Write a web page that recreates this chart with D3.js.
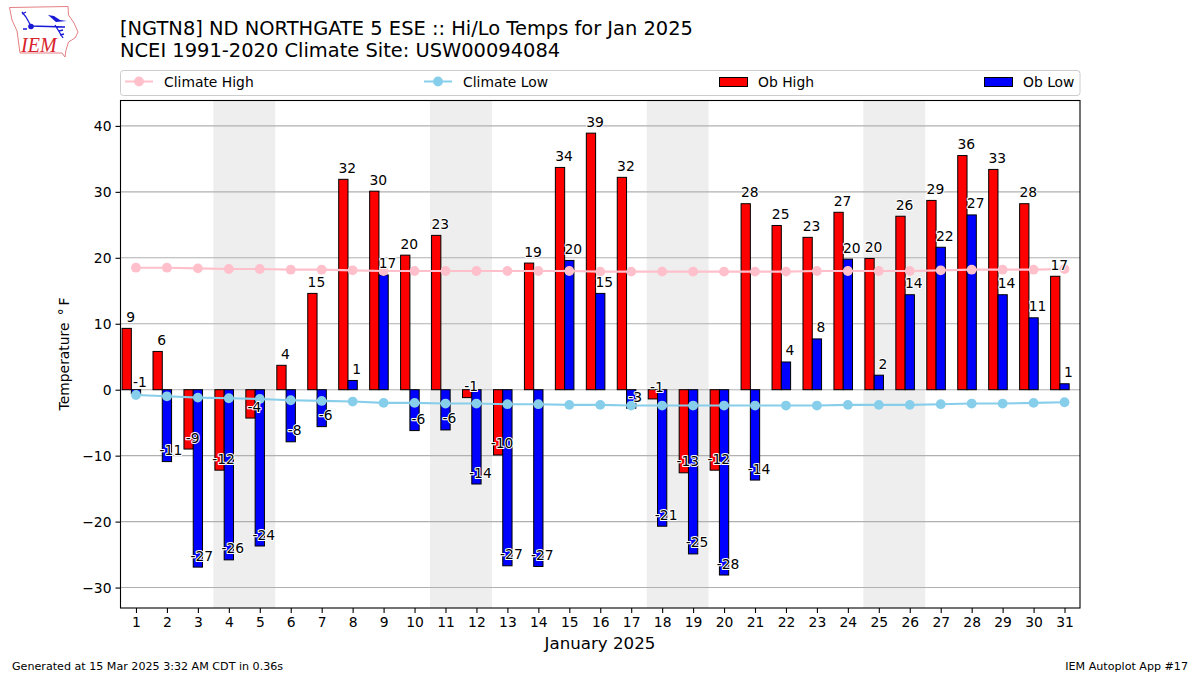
<!DOCTYPE html>
<html><head><meta charset="utf-8">
<script src="https://cdn.jsdelivr.net/npm/d3@7"></script>
<style>
html,body{margin:0;padding:0;background:#fff}
svg{display:block}
text{font-family:"DejaVu Sans",sans-serif;fill:#000}
</style></head><body><svg id="c" width="1200" height="675"></svg>
<script>
const days = d3.range(1, 32);
const obHigh = [9.3,5.8,-9.0,-12.2,-4.3,3.7,14.6,31.9,30.1,20.4,23.4,-1.2,-9.9,19.2,33.7,38.9,32.2,-1.4,-12.6,-12.2,28.2,24.9,23.1,26.9,19.9,26.3,28.7,35.5,33.4,28.2,17.2];
const obLow = [-0.6,-10.9,-26.9,-25.8,-23.7,-7.9,-5.6,1.4,17.4,-6.2,-6.1,-14.3,-26.7,-26.8,19.6,14.6,-2.8,-20.7,-24.9,-28.1,-13.7,4.2,7.7,19.8,2.2,14.4,21.6,26.5,14.4,10.9,0.9];
const climateHigh = [18.5,18.5,18.4,18.3,18.3,18.2,18.2,18.1,18.0,18.0,18.0,18.0,18.0,18.0,18.0,17.9,17.9,17.9,17.9,17.9,17.9,17.9,18.0,18.0,18.0,18.0,18.1,18.2,18.2,18.2,18.3];
const climateLow = [-0.8,-1.0,-1.2,-1.3,-1.4,-1.6,-1.7,-1.8,-2.0,-2.0,-2.1,-2.1,-2.2,-2.2,-2.3,-2.3,-2.4,-2.4,-2.4,-2.4,-2.4,-2.4,-2.4,-2.3,-2.3,-2.3,-2.2,-2.1,-2.1,-2.0,-1.9];
const weekendStarts = [4, 11, 18, 25];
const yTicks = [-30,-20,-10,0,10,20,30,40];
const titleLines = ["[NGTN8] ND NORTHGATE 5 ESE :: Hi/Lo Temps for Jan 2025","NCEI 1991-2020 Climate Site: USW00094084"];
const legendLabels = ["Climate High","Climate Low","Ob High","Ob Low"];
const colors = {high:"red",low:"blue",cHigh:"pink",cLow:"skyblue"};

const L=120.5,R=1080,T=100.5,B=608;
const x=d3.scaleLinear().domain([0.5,31.5]).range([L,R]);
const y=d3.scaleLinear().domain([-33.1,43.85]).range([B,T]);
const svg=d3.select("#c");

// logo
const logo=svg.append("g");
logo.append("path").attr("d","M9.5,7.5L68,6.5L68.5,15L74,23L78,32L75,38L68.5,42L66,50L65,57L62,53L20,53L17,31L12,20Z")
  .attr("fill","none").attr("stroke","#e57f84").attr("stroke-width",1);
logo.append("path").attr("d","M31,26L65,27M22,12L26,17L31,26M22,14L26,12M55,25L63,38M59,31L63,30M60,35L64,34")
  .attr("fill","none").attr("stroke","#1a1ad6").attr("stroke-width",1.3);
logo.append("circle").attr("cx",31).attr("cy",26.5).attr("r",2.8).attr("fill","#1a1ad6");
logo.append("path").attr("d","M48,15L54,16L60,20L67,21L56,22Z").attr("fill","#1a1ad6");
logo.append("path").attr("d","M23,29L27,29").attr("stroke","#1a1ad6").attr("stroke-width",1.5);
logo.append("text").attr("x",21).attr("y",52).attr("font-size",20).attr("font-style","italic")
  .style("font-family","'Liberation Serif',serif").style("fill","#d8232a").text("IEM");

// titles
titleLines.forEach((t,i)=>svg.append("text").attr("x",120).attr("y",35+i*22.4).attr("font-size",19.44).text(t));

// legend
svg.append("rect").attr("x",120.5).attr("y",70.5).attr("width",959.5).attr("height",25).attr("rx",3)
  .attr("fill","#fff").attr("stroke","#ccc");
const legX=[125,424,719,984];
[colors.cHigh,colors.cLow].forEach((c,i)=>{
  svg.append("line").attr("x1",legX[i]).attr("x2",legX[i]+28).attr("y1",81.5).attr("y2",81.5).attr("stroke",c).attr("stroke-width",2);
  svg.append("circle").attr("cx",legX[i]+14).attr("cy",81.5).attr("r",4.9).attr("fill",c);
});
[colors.high,colors.low].forEach((c,i)=>{
  svg.append("rect").attr("x",legX[i+2]+.5).attr("y",77.5).attr("width",28).attr("height",9).attr("fill",c).attr("stroke","#000").attr("stroke-width",1);
});
legendLabels.forEach((t,i)=>svg.append("text").attr("x",legX[i]+39).attr("y",86.5).attr("font-size",13.89).text(t));

// plot background
const plot=svg.append("g");
plot.selectAll(".wk").data(weekendStarts).join("rect")
  .attr("x",d=>x(d-0.5)).attr("width",d=>x(d+1.5)-x(d-0.5)).attr("y",T).attr("height",B-T).attr("fill","#eee");
plot.selectAll(".gr").data(yTicks).join("line")
  .attr("x1",L).attr("x2",R).attr("y1",d=>y(d)).attr("y2",d=>y(d)).attr("stroke","#b0b0b0").attr("stroke-width",1.1);

// bars
const bw=0.3;
function bars(vals,off,col){
  plot.append("g").selectAll("rect").data(vals).join("rect")
    .attr("x",(d,i)=>x(days[i]+off))
    .attr("width",x(bw)-x(0))
    .attr("y",d=>Math.min(y(d),y(0)))
    .attr("height",d=>Math.abs(y(d)-y(0)))
    .attr("fill",col).attr("stroke","#000").attr("stroke-width",1);
}
bars(obHigh,-0.45,colors.high);
bars(obLow,-0.15,colors.low);

// climate lines
const line=d3.line().x((d,i)=>x(days[i])).y(d=>y(d));
[[climateHigh,colors.cHigh],[climateLow,colors.cLow]].forEach(([v,c])=>{
  plot.append("path").attr("d",line(v)).attr("fill","none").attr("stroke",c).attr("stroke-width",2.1);
  plot.append("g").selectAll("circle").data(v).join("circle")
    .attr("cx",(d,i)=>x(days[i])).attr("cy",d=>y(d)).attr("r",4.9).attr("fill",c);
});

// value labels
function labels(vals,off){
  plot.append("g").selectAll("text").data(vals).join("text")
    .attr("x",(d,i)=>x(days[i]+off)+4).attr("y",d=>y(d)-6.5)
    .attr("text-anchor","middle").attr("font-size",13.89)
    .attr("stroke","#fff").attr("stroke-width",2).attr("stroke-linejoin","round").attr("paint-order","stroke")
    .text(d=>String(Math.round(d)));
}
labels(obHigh,-0.3);
labels(obLow,0);

// frame + axes
svg.append("rect").attr("x",L).attr("y",T).attr("width",R-L).attr("height",B-T).attr("fill","none").attr("stroke","#000").attr("stroke-width",1.1);
const xa=svg.append("g").attr("transform",`translate(0,${B})`).call(d3.axisBottom(x).tickValues(days).tickFormat(d3.format("d")).tickSize(5).tickPadding(4));
const ya=svg.append("g").attr("transform",`translate(${L},0)`).call(d3.axisLeft(y).tickValues(yTicks).tickFormat(d=>String(d).replace("-","\u2212")).tickSize(5).tickPadding(4));
[xa,ya].forEach(a=>{a.select(".domain").remove();a.selectAll("text").attr("font-size",13.89).style("font-family","'DejaVu Sans'");a.selectAll("line").attr("stroke","#000").attr("stroke-width",1.1);});

svg.append("text").attr("x",600).attr("y",649).attr("text-anchor","middle").attr("font-size",16.67).text("January 2025");
svg.append("text").attr("transform","translate(69,354) rotate(-90)").attr("text-anchor","middle").attr("font-size",13.89).text("Temperature \u2009\u00b0\u2009F");
svg.append("text").attr("x",12).attr("y",670).attr("font-size",11.11).text("Generated at 15 Mar 2025 3:32 AM CDT in 0.36s");
svg.append("text").attr("x",1188).attr("y",670).attr("text-anchor","end").attr("font-size",11.11).text("IEM Autoplot App #17");
</script></body></html>
